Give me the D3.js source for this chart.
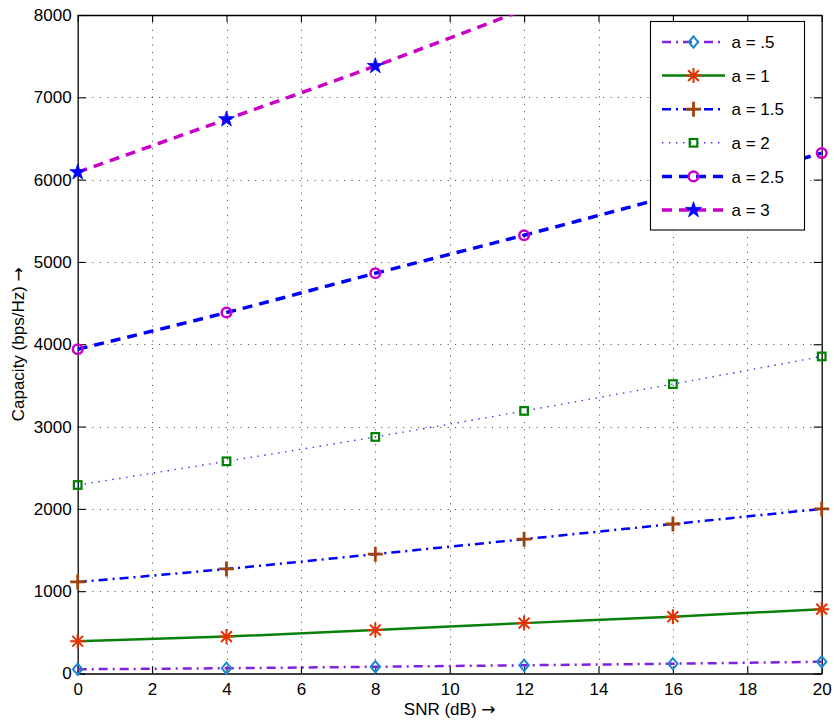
<!DOCTYPE html>
<html>
<head>
<meta charset="utf-8">
<script src="https://cdn.jsdelivr.net/npm/d3@7"></script>
<style>
  html, body { margin: 0; padding: 0; background: #fff; }
  svg { display: block; }
  text { font-family: "Liberation Sans", Arial, Helvetica, sans-serif; fill: #000; }
  .arrow { font-family: "DejaVu Sans", sans-serif; }
</style>
</head>
<body>
<svg id="chart" width="834" height="724"></svg>
<script>
// SNR sample points (dB)
const snr = [0, 4, 8, 12, 16, 20];

// Capacity (bps/Hz) for each path-loss exponent a
const capA05 = [52, 64, 82, 100, 119, 143];
const capA1  = [392, 448, 528, 612, 690, 782];
const capA15 = [1112, 1270, 1450, 1632, 1816, 2000];
const capA2  = [2290, 2578, 2874, 3190, 3516, 3852];
const capA25 = [3940, 4385, 4862, 5325, 5810, 6322];
const capA3  = [6090, 6733, 7380, 8065];

const xTicks = [0, 2, 4, 6, 8, 10, 12, 14, 16, 18, 20];
const yTicks = [0, 1000, 2000, 3000, 4000, 5000, 6000, 7000, 8000];

const seriesNames = ["a = .5", "a = 1", "a = 1.5", "a = 2", "a = 2.5", "a = 3"];
const seriesValues = [capA05, capA1, capA15, capA2, capA25, capA3];

// line / marker styling per series
const styles = [
  { line: "#8020e0", width: 2.5, dash: "9,5,2,5", marker: "diamond",  mcolor: "#1c88d0" },
  { line: "#0a800a", width: 2.5, dash: null,      marker: "asterisk", mcolor: "#e23300" },
  { line: "#0000ff", width: 2.5, dash: "9,5,2,5", marker: "plus",     mcolor: "#a0420c" },
  { line: "#2b2bff", width: 1.4, dash: "1.4,5.6", marker: "square",   mcolor: "#008000" },
  { line: "#0000ff", width: 3.5, dash: "10,7",    marker: "circle",   mcolor: "#c800c8" },
  { line: "#c800c8", width: 3.5, dash: "10,7",    marker: "star",     mcolor: "#0000ff" }
];

const pLeft = 77.7, pRight = 821.7, pTop = 15, pBottom = 673.5;
const x = d3.scaleLinear().domain([0, 20]).range([pLeft, pRight]);
const y = d3.scaleLinear().domain([0, 8000]).range([pBottom, pTop]);

const svg = d3.select("#chart");

svg.append("defs").append("clipPath").attr("id", "plotClip")
  .append("rect").attr("x", pLeft).attr("y", pTop)
  .attr("width", pRight - pLeft).attr("height", pBottom - pTop);

// dotted grid
const grid = svg.append("g").attr("stroke", "#444").attr("stroke-width", 1)
  .attr("stroke-dasharray", "1,6.4").attr("fill", "none");
xTicks.slice(1, -1).forEach(t => {
  grid.append("line").attr("x1", Math.round(x(t)) + 0.5).attr("x2", Math.round(x(t)) + 0.5)
    .attr("y1", pTop).attr("y2", pBottom);
});
yTicks.slice(1, -1).forEach(t => {
  grid.append("line").attr("y1", Math.round(y(t)) + 0.5).attr("y2", Math.round(y(t)) + 0.5)
    .attr("x1", pLeft).attr("x2", pRight);
});

// axes with inward ticks on all four sides
const fontSize = "17px";
const axB = svg.append("g").attr("transform", `translate(0,${pBottom})`)
  .call(d3.axisBottom(x).tickValues(xTicks).tickFormat(d3.format("d"))
    .tickSize(-7).tickPadding(9).tickSizeOuter(0));
const axT = svg.append("g").attr("transform", `translate(0,${pTop})`)
  .call(d3.axisTop(x).tickValues(xTicks).tickSize(-7).tickFormat("").tickSizeOuter(0));
const axL = svg.append("g").attr("transform", `translate(${pLeft},0)`)
  .call(d3.axisLeft(y).tickValues(yTicks).tickFormat(d3.format("d"))
    .tickSize(-8).tickPadding(6).tickSizeOuter(0));
const axR = svg.append("g").attr("transform", `translate(${pRight},0)`)
  .call(d3.axisRight(y).tickValues(yTicks).tickSize(-8).tickFormat("").tickSizeOuter(0));
[axB, axT, axL, axR].forEach(g => {
  g.attr("font-size", fontSize).attr("font-family", "Liberation Sans, Arial, sans-serif");
  g.select(".domain").attr("stroke", "#000").attr("stroke-width", 1.3);
  g.selectAll(".tick line").attr("stroke", "#000").attr("stroke-width", 1.1);
  g.selectAll("text").attr("fill", "#000");
});

// axis titles
const xTitle = svg.append("text").attr("x", (pLeft + pRight) / 2).attr("y", 715)
  .attr("text-anchor", "middle").attr("font-size", fontSize);
xTitle.append("tspan").text("SNR (dB) ");
xTitle.append("tspan").attr("class", "arrow").text("\u2192");
const yTitle = svg.append("text").attr("transform", `translate(24,${(pTop + pBottom) / 2}) rotate(-90)`)
  .attr("text-anchor", "middle").attr("font-size", fontSize);
yTitle.append("tspan").text("Capacity (bps/Hz) ");
yTitle.append("tspan").attr("class", "arrow").text("\u2192");

// marker drawing
function drawMarker(g, type, color, cx, cy) {
  const m = g.append("g").attr("transform", `translate(${cx},${cy})`);
  if (type === "diamond") {
    m.append("path").attr("d", "M0,-5.6L4.7,0L0,5.6L-4.7,0Z")
      .attr("fill", "none").attr("stroke", color).attr("stroke-width", 2);
  } else if (type === "asterisk") {
    const r = 7.5, d = r * 0.72;
    m.append("path").attr("d", `M${-r},0H${r}M0,${-r}V${r}M${-d},${-d}L${d},${d}M${-d},${d}L${d},${-d}`)
      .attr("stroke", color).attr("stroke-width", 2).attr("fill", "none");
  } else if (type === "plus") {
    const r = 7.5;
    m.append("path").attr("d", `M${-r},0H${r}M0,${-r}V${r}`)
      .attr("stroke", color).attr("stroke-width", 2.8).attr("fill", "none");
  } else if (type === "square") {
    m.append("rect").attr("x", -3.8).attr("y", -3.8).attr("width", 7.6).attr("height", 7.6)
      .attr("fill", "none").attr("stroke", color).attr("stroke-width", 2.2);
  } else if (type === "circle") {
    m.append("circle").attr("r", 4.8).attr("fill", "none")
      .attr("stroke", color).attr("stroke-width", 2.5);
  } else if (type === "star") {
    m.append("path").attr("d", d3.symbol().type(d3.symbolStar).size(78)())
      .attr("fill", color).attr("stroke", color).attr("stroke-width", 0.8);
  }
}

const lineGen = d3.line().x(d => x(d[0])).y(d => y(d[1])).curve(d3.curveMonotoneX);

const plot = svg.append("g");
seriesValues.forEach((vals, i) => {
  const st = styles[i];
  const pts = vals.map((v, j) => [snr[j], v]);
  plot.append("path").datum(pts).attr("d", lineGen)
    .attr("clip-path", "url(#plotClip)")
    .attr("fill", "none").attr("stroke", st.line).attr("stroke-width", st.width)
    .attr("stroke-dasharray", st.dash);
  pts.filter(p => p[1] <= 8000).forEach(p => drawMarker(plot, st.marker, st.mcolor, x(p[0]), y(p[1])));
});

// legend
const lg = svg.append("g");
lg.append("rect").attr("x", 650.5).attr("y", 21.5).attr("width", 154).attr("height", 208.5)
  .attr("fill", "#fff").attr("stroke", "#000").attr("stroke-width", 1.1);
seriesNames.forEach((name, i) => {
  const st = styles[i];
  const ry = 42 + i * 33.6;
  lg.append("line").attr("x1", 662).attr("x2", 725).attr("y1", ry).attr("y2", ry)
    .attr("stroke", st.line).attr("stroke-width", st.width).attr("stroke-dasharray", st.dash);
  drawMarker(lg, st.marker, st.mcolor, 693.5, ry);
  lg.append("text").attr("x", 731.5).attr("y", ry).attr("dy", "0.36em")
    .attr("font-size", fontSize).text(name);
});
</script>
</body>
</html>
